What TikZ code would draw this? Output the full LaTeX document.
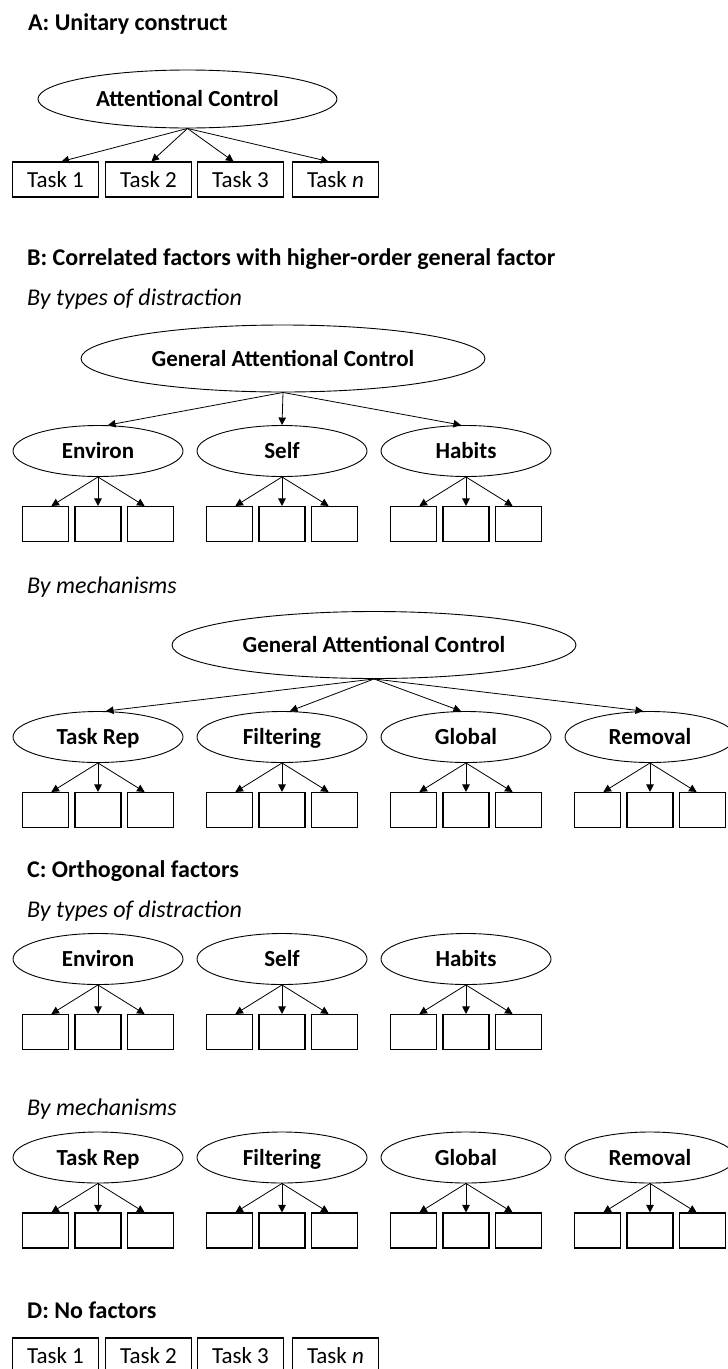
\documentclass[tikz,border=0pt]{standalone}
\usepackage{fontspec}
\setmainfont{Carlito}
\usetikzlibrary{shapes.geometric,positioning,arrows.meta}

\begin{document}
\begin{tikzpicture}[x=1pt, y=-1pt,
    title/.style={anchor=base west, inner sep=0, font=\bfseries\fontsize{24}{28}\selectfont},
    subtitle/.style={anchor=base west, inner sep=0, font=\itshape\fontsize{24}{28}\selectfont},
    latent/.style={draw, ellipse, line width=0.9pt, inner sep=0, minimum width=170, minimum height=51,
        text height=15pt, text depth=0pt, font=\bfseries\fontsize{23}{26}\selectfont},
    general/.style={latent, minimum width=404, minimum height=67},
    task/.style={draw, line width=1.1pt, minimum width=86, minimum height=35, inner sep=0,
        text height=15pt, text depth=0pt, font=\fontsize{23}{26}\selectfont},
    item/.style={draw, line width=1.1pt, minimum width=46, minimum height=35, inner sep=0},
    loading/.style={line width=0.8pt, -{Triangle[length=7.5pt,width=7.5pt]}}]
    \useasboundingbox (0,0) rectangle (728,1369);
    \clip (0,0) rectangle (728,1369);

    % A: one factor
    \node[title] (tA) at (28,30) {A: Unitary construct};
    \node[latent, minimum width=299, minimum height=58] (ac) at (187.5,99) {Attentional Control};
    \node[task] (a1) at (55.5,179.5) {Task 1};
    \node[task] (a2) at (148.5,179.5) {Task 2};
    \node[task] (a3) at (240.5,179.5) {Task 3};
    \node[task] (a4) at (335.5,179.5) {Task \textit{n}};
    \draw[loading] (ac.south) -- ([xshift=6]a1.north);
    \draw[loading] (ac.south) -- ([xshift=3]a2.north);
    \draw[loading] (ac.south) -- ([xshift=-7]a3.north);
    \draw[loading] (ac.south) -- ([xshift=-7]a4.north);

    % B: higher-order factor
    \node[title] (tB) at (27,265) {B: Correlated factors with higher-order general factor};
    \node[subtitle] (sB1) at (27,305) {By types of distraction};
    \node[general] (gac1) at (283,358.5) {General Attentional Control};
    \node[latent] (bEnv) at (98,451) {Environ};
    \node[latent] (bSelf) at (282,451) {Self};
    \node[latent] (bHab) at (466,451) {Habits};
    \draw[loading] (gac1.south) -- ([xshift=10]bEnv.north);
    \draw[loading] (gac1.south) -- (bSelf.north);
    \draw[loading] (gac1.south) -- ([xshift=-5]bHab.north);

    \node[subtitle] (sB2) at (27,593) {By mechanisms};
    \node[general] (gac2) at (374,645) {General Attentional Control};
    \node[latent] (bTask) at (98,737) {Task Rep};
    \node[latent] (bFilt) at (282,737) {Filtering};
    \node[latent] (bGlob) at (466,737) {Global};
    \node[latent] (bRem) at (650,737) {Removal};
    \draw[loading] (gac2.south) -- ([xshift=8]bTask.north);
    \draw[loading] (gac2.south) -- ([xshift=8]bFilt.north);
    \draw[loading] (gac2.south) -- ([xshift=-5]bGlob.north);
    \draw[loading] (gac2.south) -- ([xshift=-7]bRem.north);

    % C: orthogonal factors
    \node[title] (tC) at (27,877) {C: Orthogonal factors};
    \node[subtitle] (sC1) at (27,917) {By types of distraction};
    \node[latent] (cEnv) at (98,959) {Environ};
    \node[latent] (cSelf) at (282,959) {Self};
    \node[latent] (cHab) at (466,959) {Habits};

    \node[subtitle] (sC2) at (27,1115) {By mechanisms};
    \node[latent] (cTask) at (98,1157.5) {Task Rep};
    \node[latent] (cFilt) at (282,1157.5) {Filtering};
    \node[latent] (cGlob) at (466,1157.5) {Global};
    \node[latent] (cRem) at (650,1157.5) {Removal};

    % indicators under every factor
    \foreach \f in {bEnv,bSelf,bHab,bTask,bFilt,bGlob,bRem,cEnv,cSelf,cHab,cTask,cFilt,cGlob,cRem} {
        \node[item, below=29pt of \f] (\f2) {};
        \node[item, left=5.5pt of \f2] (\f1) {};
        \node[item, right=5.5pt of \f2] (\f3) {};
        \draw[loading] (\f.south) -- ([xshift=6]\f1.north);
        \draw[loading] (\f.south) -- (\f2.north);
        \draw[loading] (\f.south) -- ([xshift=-6]\f3.north);
    }

    % D: no factors
    \node[title] (tD) at (27,1318) {D: No factors};
    \node[task] (d1) at (55.5,1355.5) {Task 1};
    \node[task] (d2) at (148.5,1355.5) {Task 2};
    \node[task] (d3) at (240.5,1355.5) {Task 3};
    \node[task] (d4) at (335.5,1355.5) {Task \textit{n}};
\end{tikzpicture}
\end{document}
